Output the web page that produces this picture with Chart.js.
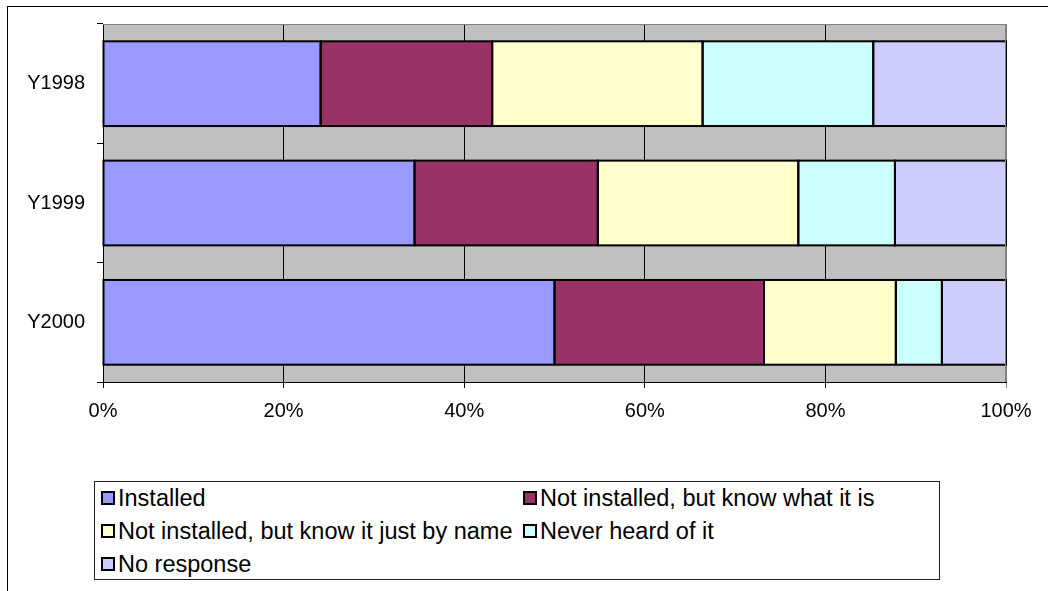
<!DOCTYPE html>
<html>
<head>
<meta charset="utf-8">
<script src="https://cdn.jsdelivr.net/npm/chart.js@4/dist/chart.umd.min.js"></script>
<style>
  body { margin: 0; background: #fff; font-family: "Liberation Sans", Arial, sans-serif; overflow: hidden; }
  #frame { position: absolute; left: 7px; top: 6px; width: 1200px; height: 800px; border: 1px solid #000; }
  #wrap { position: absolute; left: 0; top: 0; width: 1048px; height: 460px; }
  #legend { position: absolute; left: 94px; top: 481px; width: 844px; height: 97px; border: 1px solid #222; background: #fff; }
  .item { position: absolute; font-size: 23.5px; line-height: 26px; color: #000; white-space: nowrap; }
  .item span.box { position: absolute; left: 0; top: 6px; width: 10px; height: 10px; border: 2px solid #000; }
  .item span.txt { position: absolute; left: 17px; top: 0; }
</style>
</head>
<body>
<div id="frame"></div>
<div id="wrap"><canvas id="myChart" width="1048" height="460"></canvas></div>
<div id="legend"></div>
<script>
// survey years
var years = ['Y1998', 'Y1999', 'Y2000'];

// share of answers per year, percent
var installed   = [24.1, 34.5, 50.0];
var knowWhat    = [19.0, 20.3, 23.2];
var knowName    = [23.3, 22.2, 14.6];
var neverHeard  = [18.9, 10.7, 5.1];
var noResponse  = [14.7, 12.3, 7.1];

var seriesNames = ['Installed', 'Not installed, but know what it is',
  'Not installed, but know it just by name', 'Never heard of it', 'No response'];
var seriesColors = ['#9999FF', '#993366', '#FFFFCC', '#CCFFFF', '#CCCCFF'];
var xTicks = [0, 20, 40, 60, 80, 100];

var allSeries = [installed, knowWhat, knowName, neverHeard, noResponse];
var datasets = [];
for (var i in allSeries) {
  datasets.push({
    label: seriesNames[i],
    data: allSeries[i],
    backgroundColor: seriesColors[i],
    borderWidth: 0,
    categoryPercentage: 1,
    barPercentage: 0.71
  });
}

// grey plot background, gray frame on top/right
var plotArea = {
  id: 'plotArea',
  beforeDraw: function(chart) {
    var a = chart.chartArea, c = chart.ctx;
    c.save();
    c.fillStyle = '#C0C0C0';
    c.fillRect(a.left, a.top, a.right - a.left, a.bottom - a.top);
    c.restore();
  },
  afterDraw: function(chart) {
    var a = chart.chartArea, c = chart.ctx;
    c.save();
    c.strokeStyle = '#808080';
    c.lineWidth = 1;
    c.beginPath();
    c.moveTo(a.left, a.top + 0.5);
    c.lineTo(a.right - 0.5, a.top + 0.5);
    c.lineTo(a.right - 0.5, a.bottom);
    c.stroke();
    c.restore();
  }
};

// black outline round every bar segment, shared edges stay 2px
var barOutline = {
  id: 'barOutline',
  afterDatasetsDraw: function(chart) {
    var c = chart.ctx;
    c.save();
    c.strokeStyle = '#000';
    c.lineWidth = 2;
    chart.data.datasets.forEach(function(ds, di) {
      chart.getDatasetMeta(di).data.forEach(function(bar) {
        var p = bar.getProps(['x', 'y', 'base', 'height'], true);
        var x0 = Math.min(p.base, p.x), x1 = Math.max(p.base, p.x);
        c.strokeRect(x0, p.y - p.height / 2, x1 - x0, p.height);
      });
    });
    c.restore();
  }
};

var font = { family: '"Liberation Sans", Arial, sans-serif', size: 20 };

var chart = new Chart(document.getElementById('myChart'), {
  type: 'bar',
  data: { labels: years, datasets: datasets },
  plugins: [plotArea, barOutline],
  options: {
    indexAxis: 'y',
    responsive: false,
    animation: false,
    layout: { padding: { top: 22, right: 42, left: 0, bottom: 0 } },
    plugins: { legend: { display: false }, tooltip: { enabled: false } },
    scales: {
      x: {
        stacked: true,
        min: 0,
        max: 100,
        afterBuildTicks: function(scale) {
          scale.ticks = xTicks.map(function(v) { return { value: v }; });
        },
        afterFit: function(scale) { scale.height = 78; },
        ticks: {
          color: '#000',
          font: font,
          padding: 11,
          maxRotation: 0,
          callback: function(v) { return v + '%'; }
        },
        grid: {
          color: function(ctx) { return ctx.tick && ctx.tick.value === 100 ? '#808080' : '#000'; },
          lineWidth: 1,
          tickLength: 6,
          drawOnChartArea: true
        },
        border: { color: '#000', width: 1 }
      },
      y: {
        stacked: true,
        afterFit: function(scale) { scale.width = 103; },
        ticks: { color: '#000', font: font, padding: 12 },
        grid: { offset: true, color: '#000', tickLength: 6, drawOnChartArea: false },
        border: { color: '#000', width: 1 }
      }
    }
  }
});

// legend box, two columns
var colX = [6, 428];
var rowY = [3, 36, 69];
var html = '';
chart.data.datasets.forEach(function(ds, k) {
  var col = k % 2, row = Math.floor(k / 2);
  html += '<div class="item" style="left:' + colX[col] + 'px;top:' + rowY[row] + 'px">' +
    '<span class="box" style="background:' + ds.backgroundColor + '"></span>' +
    '<span class="txt">' + ds.label + '</span></div>';
});
document.getElementById('legend').innerHTML = html;
</script>
</body>
</html>
